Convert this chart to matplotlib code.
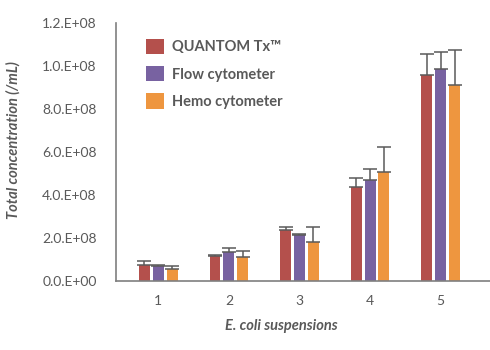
import numpy as np
import matplotlib.pyplot as plt

# Concentration data for five E. coli suspensions (cells/mL)
suspensions = ["1", "2", "3", "4", "5"]
series_names = ["QUANTOM Tx\u2122", "Flow cytometer", "Hemo cytometer"]
quantom = [7.4e6, 11.6e6, 23.7e6, 43.7e6, 95.8e6]
quantom_err = [1.8e6, 0.4e6, 1.3e6, 4.1e6, 9.6e6]
flow = [7.1e6, 13.6e6, 21.5e6, 47.0e6, 98.6e6]
flow_err = [0.3e6, 1.6e6, 0.3e6, 5.0e6, 7.8e6]
hemo = [5.4e6, 11.3e6, 18.3e6, 50.5e6, 91.2e6]
hemo_err = [1.6e6, 2.8e6, 6.7e6, 11.7e6, 16.1e6]
ytick_vals = [0, 2e7, 4e7, 6e7, 8e7, 1e8, 1.2e8]
ytick_labels = ["0.0.E+00", "2.0.E+08", "4.0.E+08", "6.0.E+08", "8.0.E+08", "1.0.E+08", "1.2.E+08"]

colors = ["#B4504C", "#7862A1", "#EE963F"]
text_col = "#595959"
axis_col = "#7f7f7f"

plt.rcParams['font.family'] = ['Lato', 'DejaVu Sans']

fig = plt.figure(figsize=(4.9, 3.5), dpi=100)
ax = fig.add_axes([116 / 490, 69 / 350, 374 / 490, 258 / 350])

x = np.arange(1, len(suspensions) + 1)
width = 0.155
step = 0.197
for i, (vals, errs) in enumerate([(quantom, quantom_err), (flow, flow_err), (hemo, hemo_err)]):
    ax.bar(x + (i - 1) * step, vals, width, color=colors[i], label=series_names[i],
           yerr=[np.zeros(len(errs)), errs], error_kw=dict(ecolor="#5a5a5a", elinewidth=1.1,
                                                           capsize=5, capthick=1.1))

ax.set_xlim(0.4, 5.7)
ax.set_ylim(0, 1.2e8)
ax.set_yticks(ytick_vals)
ax.set_yticklabels(ytick_labels)
ax.set_xticks(x)
ax.set_xticklabels(suspensions)
ax.tick_params(length=0, labelsize=10, colors=text_col)
ax.tick_params(axis="y", pad=14)
ax.tick_params(axis="x", pad=10)
for side in ["top", "right"]:
    ax.spines[side].set_visible(False)
for side in ["left", "bottom"]:
    ax.spines[side].set_color(axis_col)
    ax.spines[side].set_linewidth(1.2)

fig.text(13 / 490, 1 - 140 / 350, "Total concentration (/mL)", rotation=90, fontsize=10.5,
         style="italic", fontweight="bold", color=text_col, ha="center", va="center")
fig.text(281 / 490, 1 - 326 / 350, "E. coli suspensions", fontsize=10.5,
         style="italic", fontweight="bold", color=text_col, ha="center", va="center")

leg = ax.legend(loc="upper left", bbox_to_anchor=(0.045, 0.99), frameon=False,
                handlelength=1.25, handleheight=1.25, handletextpad=0.55, labelspacing=0.8,
                prop=dict(size=10.5, weight="bold"))
for t in leg.get_texts():
    t.set_color(text_col)

fig.savefig("out.png", dpi=100)
